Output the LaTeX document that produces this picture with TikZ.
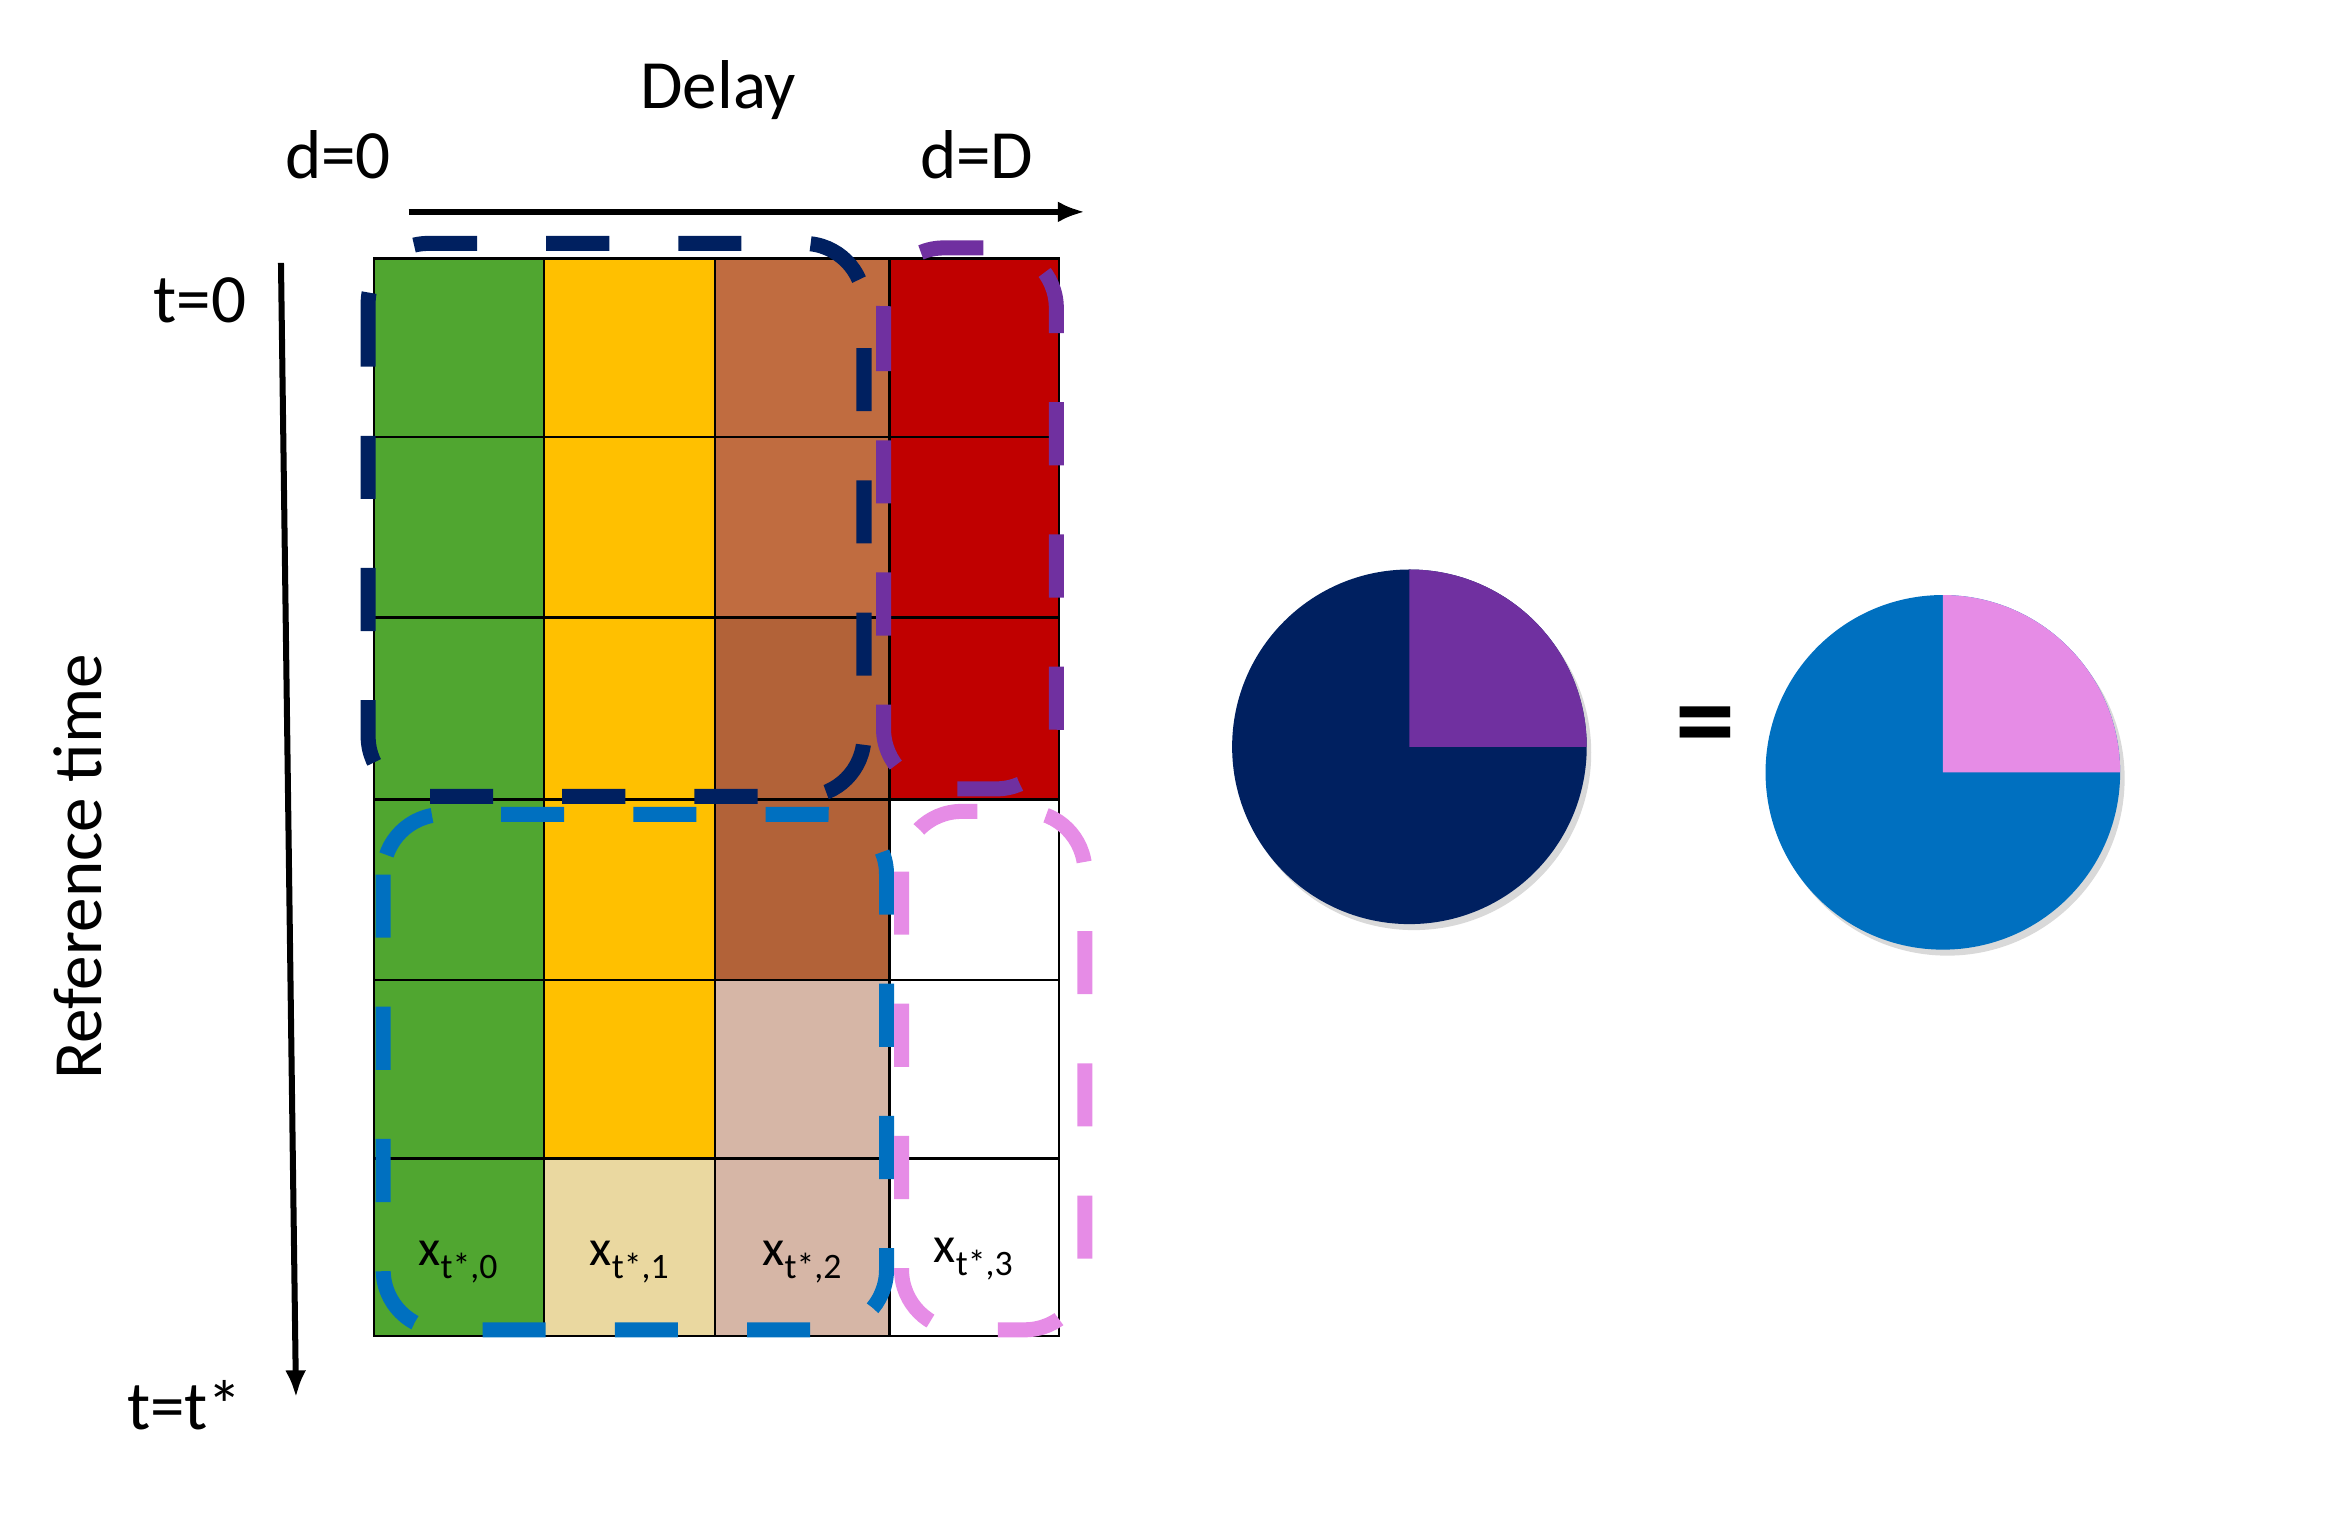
\documentclass[tikz,border=0pt]{standalone}
\usepackage{fontspec}
\setmainfont{Carlito}
\usetikzlibrary{shadows,arrows.meta}
\definecolor{cg}{RGB}{80,166,48}
\definecolor{cy}{RGB}{255,192,0}
\definecolor{cyl}{RGB}{234,216,160}
\definecolor{cb}{RGB}{192,108,64}
\definecolor{cbd}{RGB}{178,98,56}
\definecolor{cbl}{RGB}{214,182,166}
\definecolor{cr}{RGB}{192,0,0}
\definecolor{navy}{RGB}{0,32,96}
\definecolor{purp}{RGB}{112,48,160}
\definecolor{blu}{RGB}{0,112,192}
\definecolor{pnk}{RGB}{230,140,230}
\begin{document}
\begin{tikzpicture}[x=1pt,y=-1pt,
  cell/.style={draw=black,line width=1.5pt},
  grp/.style={line width=10pt,dash pattern=on 42pt off 46pt,rounded corners=40pt},
  lbl/.style={font=\fontsize{46}{50}\selectfont},
  clbl/.style={font=\fontsize{34}{38}\selectfont,inner sep=0pt},
  arr/.style={line width=4pt,-{Latex[length=18pt,width=14pt]}}]
\useasboundingbox (0,0) rectangle (1552,1018);
\def\xs{{249,362,476,592,705}}
\def\ys{{172,291,411,532,652,771,889}}
\foreach \c/\r/\col in {0/0/cg,0/1/cg,0/2/cg,0/3/cg,0/4/cg,0/5/cg,
 1/0/cy,1/1/cy,1/2/cy,1/3/cy,1/4/cy,1/5/cyl,
 2/0/cb,2/1/cb,2/2/cbd,2/3/cbd,2/4/cbl,2/5/cbl,
 3/0/cr,3/1/cr,3/2/cr,3/3/white,3/4/white,3/5/white}{
  \pgfmathsetmacro\xa{\xs[\c]}\pgfmathsetmacro\xb{\xs[\c+1]}
  \pgfmathsetmacro\ya{\ys[\r]}\pgfmathsetmacro\yb{\ys[\r+1]}
  \draw[cell,fill=\col] (\xa,\ya) rectangle (\xb,\yb);
}
\node[clbl] (x0) at (305,840) {x\textsubscript{t*,0}};
\node[clbl] (x1) at (419,840) {x\textsubscript{t*,1}};
\node[clbl] (x2) at (534,840) {x\textsubscript{t*,2}};
\node[clbl] (x3) at (648,838) {x\textsubscript{t*,3}};
\draw[grp,navy] (245,162) rectangle (575,530);
\draw[grp,purp] (588,165) rectangle (703,525);
\draw[grp,blu] (255,542) rectangle (590,885);
\draw[grp,pnk] (600,540) rectangle (722,885);
\coordinate (ta) at (272,141); \coordinate (tb) at (722,141);
\draw[arr] (ta) -- (tb);
\coordinate (va) at (187,175); \coordinate (vb) at (197,930);
\draw[arr] (va) -- (vb);
\node[lbl] (delay) at (478,60) {Delay};
\node[lbl] (d0) at (225,103) {d=0};
\node[lbl] (dD) at (650,103) {d=D};
\node[lbl] (t0) at (133,200) {t=0};
\node[lbl] (tt) at (123,935) {t=t*};
\node[lbl,rotate=90] (rt) at (52,577) {Reference time};
\fill[navy,drop shadow={shadow xshift=3pt,shadow yshift=-4pt,opacity=.3}] (938,497) circle (118);
\fill[purp] (938,497) -- (938,379) arc[start angle=-90,end angle=0,radius=118] -- cycle;
\node[font=\fontsize{80}{80}\selectfont\bfseries] (eq) at (1135,488) {=};
\fill[blu,drop shadow={shadow xshift=3pt,shadow yshift=-4pt,opacity=.3}] (1293,514) circle (118);
\fill[pnk] (1293,514) -- (1293,396) arc[start angle=-90,end angle=0,radius=118] -- cycle;
\end{tikzpicture}
\end{document}
